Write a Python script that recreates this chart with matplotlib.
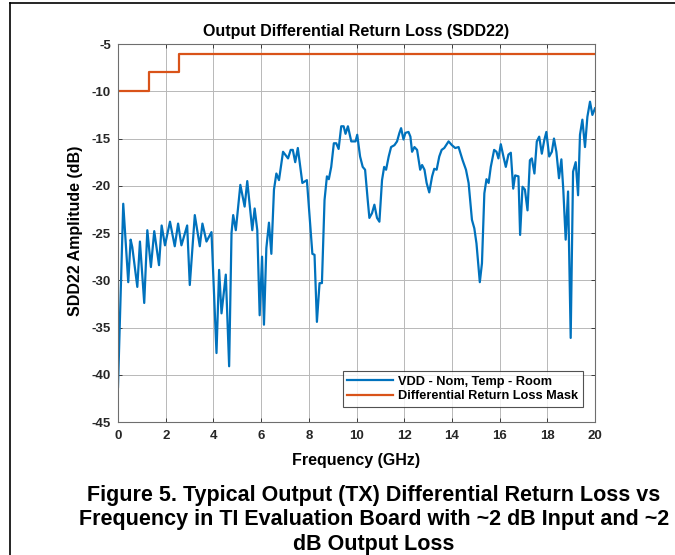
import matplotlib
matplotlib.use("Agg")
import matplotlib.pyplot as plt
from matplotlib.lines import Line2D

plt.rcParams['font.family'] = ['Liberation Sans', 'DejaVu Sans']
plt.rcParams['font.weight'] = 'bold'
plt.rcParams['axes.unicode_minus'] = False

# SDD22 trace
freq_ghz = [0.00, 0.22, 0.43, 0.53, 0.60, 0.81, 0.92, 1.10, 1.23, 1.38, 1.52, 1.72,
            1.83, 1.97, 2.18, 2.38, 2.52, 2.66, 2.90, 3.01, 3.22, 3.43, 3.54, 3.71,
            3.92, 4.13, 4.24, 4.34, 4.52, 4.66, 4.76, 4.83, 4.94, 5.13, 5.31, 5.42,
            5.63, 5.73, 5.84, 5.94, 6.04, 6.12, 6.22, 6.33, 6.43, 6.54, 6.64, 6.75,
            6.92, 7.13, 7.24, 7.33, 7.43, 7.54, 7.73, 7.92, 8.15, 8.24, 8.34, 8.45,
            8.55, 8.66, 8.76, 8.84, 8.94, 9.05, 9.15, 9.25, 9.36, 9.46, 9.54, 9.64,
            9.78, 9.96, 10.03, 10.15, 10.26, 10.36, 10.47, 10.54, 10.65, 10.75, 10.86,
            10.96, 11.07, 11.16, 11.24, 11.35, 11.45, 11.59, 11.70, 11.80, 11.87, 11.97,
            12.05, 12.18, 12.26, 12.33, 12.43, 12.54, 12.67, 12.75, 12.85, 12.94, 13.05,
            13.17, 13.26, 13.36, 13.47, 13.57, 13.68, 13.86, 14.00, 14.14, 14.28, 14.45,
            14.59, 14.70, 14.84, 14.94, 15.03, 15.17, 15.26, 15.36, 15.45, 15.54, 15.63,
            15.77, 15.87, 15.95, 16.05, 16.16, 16.26, 16.37, 16.47, 16.57, 16.65, 16.79,
            16.86, 16.96, 17.06, 17.17, 17.27, 17.35, 17.46, 17.56, 17.66, 17.77, 17.87,
            17.96, 18.08, 18.19, 18.28, 18.38, 18.49, 18.59, 18.67, 18.77, 18.87, 18.98,
            19.08, 19.19, 19.29, 19.37, 19.47, 19.58, 19.68, 19.79, 19.89, 20.00]
sdd22_db = [-41.3, -21.9, -30.2, -25.7, -26.5, -30.7, -25.9, -32.4, -24.7, -28.6, -24.8, -28.4,
            -24.2, -26.3, -23.8, -26.4, -24.0, -26.3, -24.2, -30.5, -23.1, -26.4, -24.0, -25.9,
            -24.9, -37.7, -28.9, -33.5, -29.4, -39.1, -25.0, -23.1, -24.7, -19.9, -22.2, -19.5,
            -24.7, -22.4, -24.7, -33.7, -27.5, -34.7, -26.6, -23.9, -27.2, -20.4, -18.7, -19.4,
            -16.4, -17.1, -16.2, -16.2, -17.5, -16.0, -19.7, -19.4, -27.2, -27.3, -34.4, -30.3,
            -30.3, -21.5, -19.0, -19.3, -18.0, -15.5, -15.5, -16.1, -13.7, -13.7, -14.5, -13.7,
            -15.3, -15.3, -14.6, -16.9, -18.0, -18.3, -21.5, -23.4, -22.9, -22.0, -23.4,
            -23.8, -19.4, -18.0, -18.3, -16.9, -15.9, -15.7, -15.3, -14.4, -13.9, -15.1,
            -14.4, -14.3, -14.8, -16.4, -15.9, -16.2, -18.3, -17.8, -18.3, -19.7, -20.7,
            -19.0, -18.2, -18.3, -16.9, -16.2, -16.0, -15.3, -15.7, -16.0, -15.9, -17.3,
            -18.3, -19.7, -23.6, -24.5, -26.1, -30.2, -28.2, -20.8, -19.3, -19.7, -18.0,
            -16.2, -16.4, -17.1, -15.6, -16.9, -18.0, -16.7, -16.5, -20.3, -18.9, -19.0,
            -25.2, -20.1, -20.4, -22.6, -17.3, -17.1, -18.7, -15.3, -14.8, -16.6, -15.2,
            -14.3, -16.9, -16.4, -15.0, -16.4, -19.2, -17.2, -20.4, -25.7, -20.6, -36.1,
            -18.5, -17.5, -21.0, -14.6, -13.0, -15.9, -12.7, -11.1, -12.5, -11.8]

# return loss mask (step limits)
mask_freq = [0, 1.3, 2.55, 20]
mask_db = [-10, -8, -6, -6]

xticks = list(range(0, 21, 2))
yticks = list(range(-45, -4, 5))

blue = '#0072BD'
orange = '#D95319'

fig = plt.figure(figsize=(6.75, 5.55), dpi=100)
ax = fig.add_axes([0.1748, 0.2396, 0.7067, 0.681])

ax.plot(freq_ghz, sdd22_db, color=blue, lw=1.6, label='VDD - Nom, Temp - Room')
ax.plot(mask_freq, mask_db, color=orange, lw=1.6, drawstyle='steps-post',
        label='Differential Return Loss Mask')

ax.set_xlim(0, 20)
ax.set_ylim(-45, -5)
ax.set_xticks(xticks)
ax.set_yticks(yticks)
ax.tick_params(direction='in', labelsize=9.5, length=3, width=0.6, colors='#262626',
               top=True, right=True)
ax.tick_params(axis='x', pad=6)
ax.tick_params(axis='y', pad=5)
for lab in ax.get_xticklabels() + ax.get_yticklabels():
    lab.set_fontweight('bold')
ax.grid(True, color='#b8b8b8', lw=0.7)
ax.set_axisbelow(True)
for sp in ax.spines.values():
    sp.set_color('#6e6e6e')
    sp.set_linewidth(0.8)

ax.set_title('Output Differential Return Loss (SDD22)', fontsize=11.5, fontweight='bold', pad=6)
ax.set_xlabel('Frequency (GHz)', fontsize=11.5, fontweight='bold')
ax.set_ylabel('SDD22 Amplitude (dB)', fontsize=11.5, fontweight='bold')
ax.xaxis.set_label_coords(0.5, -0.1005)
ax.xaxis.label.set_verticalalignment('center')
ax.yaxis.set_label_coords(-0.090, 0.505)
ax.yaxis.label.set_verticalalignment('center')

leg = ax.legend(loc='lower right', fontsize=9.2, frameon=True, fancybox=False,
                handlelength=3.6, handletextpad=0.4, borderpad=0.35, labelspacing=0.2,
                borderaxespad=0, bbox_to_anchor=(0.975, 0.04))
leg.get_frame().set_edgecolor('#262626')
leg.get_frame().set_linewidth(0.8)
for t in leg.get_texts():
    t.set_fontweight('bold')

# caption
caption = ("Figure 5. Typical Output (TX) Differential Return Loss vs\n"
           "Frequency in TI Evaluation Board with ~2 dB Input and ~2\n"
           "dB Output Loss")
fig.text(0.554, 1 - 550 / 555, caption, ha='center', va='baseline', fontsize=15.5,
         fontweight='bold', linespacing=1.22)

# page frame (top and left rules)
fig.add_artist(Line2D([10 / 675, 1], [1 - 3 / 555, 1 - 3 / 555],
                      transform=fig.transFigure, color='black', lw=1.2))
fig.add_artist(Line2D([10 / 675, 10 / 675], [0, 1 - 3 / 555],
                      transform=fig.transFigure, color='black', lw=1.2))

fig.savefig('out.png', dpi=100)
